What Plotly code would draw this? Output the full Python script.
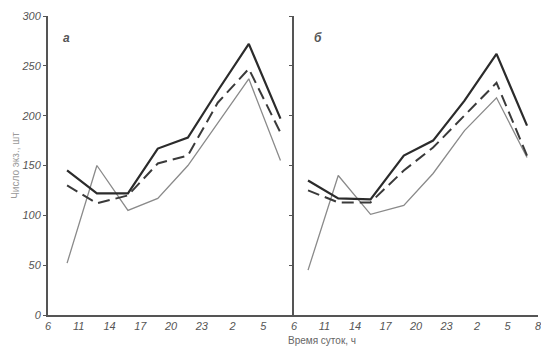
import plotly.graph_objects as go

# ---- data ----
x_tick_labels_a = ["6", "11", "14", "17", "20", "23", "2", "5"]
x_tick_labels_b = ["6", "11", "14", "17", "20", "23", "2", "5", "8"]
y_ticks = [0, 50, 100, 150, 200, 250, 300]

# positions of observations along the (index-based) time axis
x_pos_a = [0.62, 1.59, 2.60, 3.57, 4.55, 5.52, 6.53, 7.56]
x_pos_b = [0.46, 1.45, 2.51, 3.60, 4.56, 5.59, 6.64, 7.64]

solid_a = [145, 122, 122, 167, 178, 225, 272, 197]
dashed_a = [130, 112, 120, 152, 160, 213, 247, 183]
grey_a = [52, 150, 105, 117, 150, 193, 237, 155]

solid_b = [135, 117, 116, 160, 175, 215, 262, 190]
dashed_b = [125, 113, 113, 145, 168, 200, 233, 160]
grey_b = [45, 140, 101, 110, 142, 185, 218, 158]

panel_labels = ["а", "б"]

# ---- styles ----
styles = [
    dict(color="#2b2b2b", width=2.2, dash="solid"),
    dict(color="#3a3a3a", width=2.0, dash="12px,6px"),
    dict(color="#8a8a8a", width=1.3, dash="solid"),
]

fig = go.Figure()
for xs, series, xa, ya in [
    (x_pos_a, [solid_a, dashed_a, grey_a], "x", "y"),
    (x_pos_b, [solid_b, dashed_b, grey_b], "x2", "y2"),
]:
    for idx in [2, 1, 0]:
        fig.add_trace(go.Scatter(
            x=xs, y=series[idx], mode="lines", line=styles[idx],
            xaxis=xa, yaxis=ya, showlegend=False, hoverinfo="skip"))

split = 246 / 490
axis_col = "#555555"
tick_font = dict(family="Liberation Sans, Arial", size=11, color="#555555")

fig.update_layout(
    width=541, height=351,
    margin=dict(l=48, r=3, t=16, b=36),
    paper_bgcolor="white", plot_bgcolor="white",
    font=dict(family="Liberation Sans, Arial", color="#555555"),
    xaxis=dict(domain=[0, split], range=[0, 8], automargin=False,
               tickvals=list(range(len(x_tick_labels_a))),
               ticktext=[f"<i>{t}</i>" for t in x_tick_labels_a],
               showline=True, linecolor=axis_col, linewidth=2,
               showgrid=False, zeroline=False, ticks="", tickfont=tick_font),
    xaxis2=dict(domain=[split, 1], range=[0, 8], anchor="y2", automargin=False,
                tickvals=list(range(len(x_tick_labels_b))),
                ticktext=[f"<i>{t}</i>" for t in x_tick_labels_b],
                ticklabeloverflow="allow",
                showline=True, linecolor=axis_col, linewidth=2,
                showgrid=False, zeroline=False, ticks="", tickfont=tick_font),
    yaxis=dict(range=[0, 300], tickvals=y_ticks, automargin=False,
               ticktext=[f"<i>{v}</i>" for v in y_ticks],
               showline=True, linecolor=axis_col, linewidth=2,
               ticks="outside", ticklen=3, tickcolor=axis_col,
               showgrid=False, zeroline=False, tickfont=tick_font,
               title=dict(text="Число экз., шт", standoff=0,
                          font=dict(size=10, color="#9a9a9a"))),
    yaxis2=dict(range=[0, 300], anchor="x2", tickvals=y_ticks, automargin=False,
                showticklabels=False,
                showline=True, linecolor=axis_col, linewidth=2,
                ticks="outside", ticklen=3, tickcolor=axis_col,
                showgrid=False, zeroline=False),
)

fig.add_annotation(text="Время суток, ч", xref="paper", yref="paper",
                   x=0.56, y=-0.084, yanchor="middle", showarrow=False,
                   font=dict(size=10, color="#666666"))
fig.add_annotation(text=f"<b><i>{panel_labels[0]}</i></b>", xref="x", yref="y",
                   x=0.6, y=278, showarrow=False,
                   font=dict(size=12, color="#555555"))
fig.add_annotation(text=f"<b><i>{panel_labels[1]}</i></b>", xref="x2", yref="y2",
                   x=0.8, y=278, showarrow=False,
                   font=dict(size=12, color="#555555"))

fig.write_html("out.html", config={"displayModeBar": False})

# remove the browser's default page margin so the figure fills the window
with open("out.html", encoding="utf-8") as f:
    html = f.read()
html = html.replace("<head>", "<head><style>html,body{margin:0;padding:0;overflow:hidden;}</style>", 1)
with open("out.html", "w", encoding="utf-8") as f:
    f.write(html)
